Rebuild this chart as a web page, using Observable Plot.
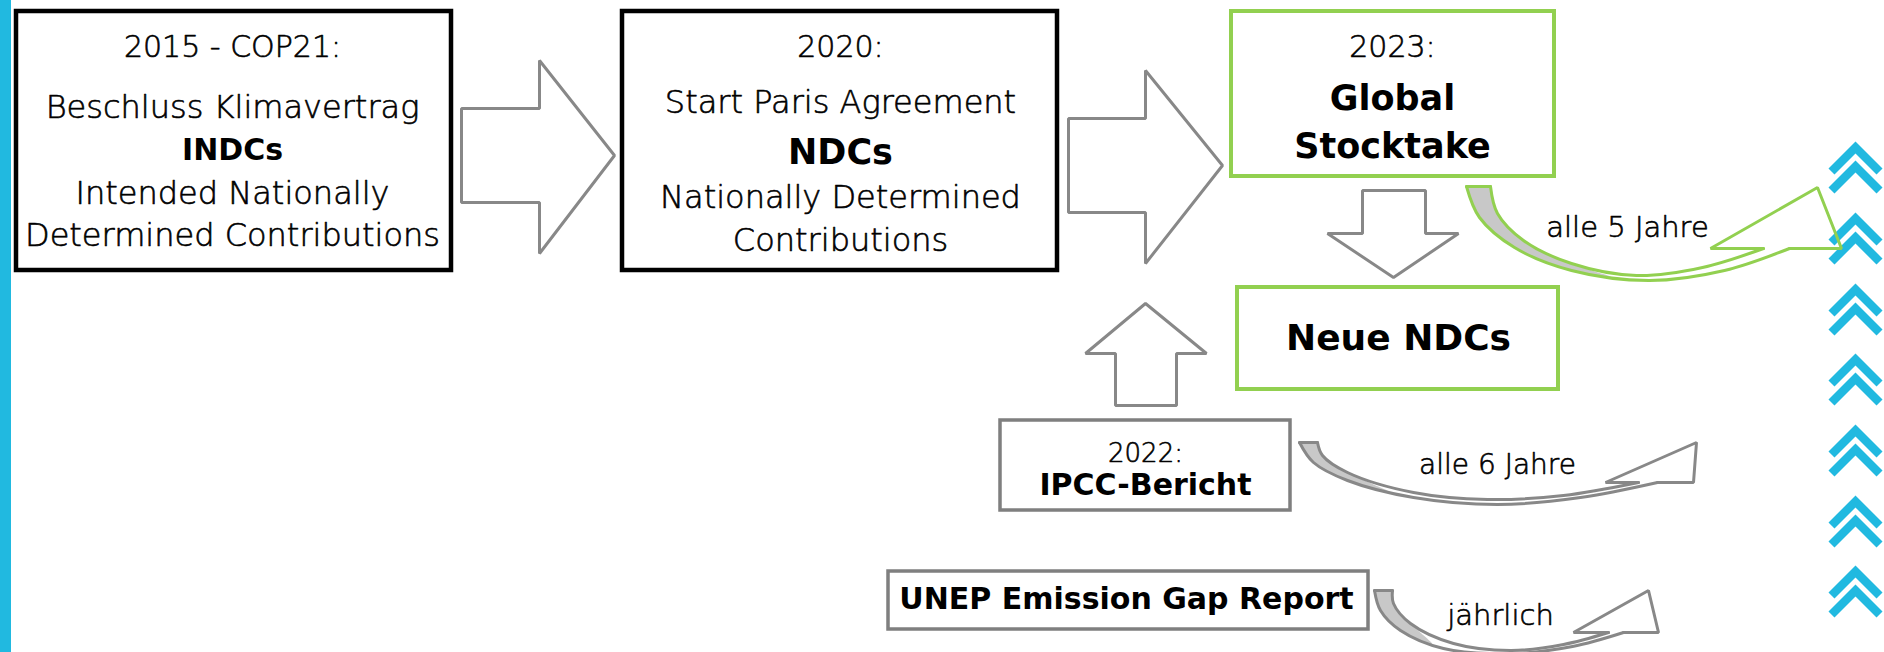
<!DOCTYPE html>
<html><head><meta charset="utf-8">
<script src="https://cdn.jsdelivr.net/npm/d3@7"></script>
<script src="https://cdn.jsdelivr.net/npm/@observablehq/plot@0.6"></script>
<style>html,body{margin:0;padding:0;background:#fff;} #chart svg{display:block;}</style>
</head><body><div id="chart"></div>
<script>
// ---- diagram data (coordinates, in diagram units) ----
const boxes = [
  {id: "cop21", x1: 16,   y1: 11,  x2: 451,  y2: 270, kind: "black"},
  {id: "paris", x1: 622,  y1: 11,  x2: 1057, y2: 270, kind: "black"},
  {id: "gst",   x1: 1231, y1: 11,  x2: 1554, y2: 176, kind: "green"},
  {id: "ndc",   x1: 1237, y1: 287, x2: 1558, y2: 389, kind: "green"},
  {id: "ipcc",  x1: 1000, y1: 420, x2: 1290, y2: 510, kind: "grey"},
  {id: "unep",  x1: 888,  y1: 571, x2: 1368, y2: 629, kind: "grey"}
];
const sideBar = [{x1: 0, x2: 11, y1: 0, y2: 652}];

const arrowRight1 = [[461,108],[539,108],[539,60],[614,155],[539,253],[539,202],[461,202]];
const arrowRight2 = [[1068,118],[1145,118],[1145,70],[1222,165],[1145,263],[1145,212],[1068,212]];
const arrowDown   = [[1362,190],[1425,190],[1425,233],[1458,233],[1393,277],[1327,233],[1362,233]];
const arrowUp     = [[1145,303],[1206,353],[1176,353],[1176,405],[1115,405],[1115,353],[1085,353]];

// curved arrows: outer edge, inner edge, arrow head, folded (grey) part
const gstOuter = [[1466,186],[1479,217],[1514,247],[1571,270],[1649,280],[1724,270],[1789,248]];
const gstInner = [[1490,186],[1497,213],[1523,240],[1571,263],[1636,275],[1702,267],[1763,248]];
const gstHead  = [[1763,248],[1710,248],[1817,187],[1841,248],[1789,248]];
const gstFold  = [[1466,186],[1479,217],[1514,247],[1571,270],[1612,277],[1571,263],[1523,240],[1497,213],[1490,186]];

const ipccOuter = [[1299,442],[1313,462],[1347,480],[1413,497],[1497,504],[1580,497],[1657,482]];
const ipccInner = [[1317,442],[1322,455],[1347,472],[1413,492],[1487,499],[1563,495],[1638,482]];
const ipccHead  = [[1638,482],[1605,482],[1696,442],[1693,482],[1657,482]];
const ipccFold  = [[1299,442],[1313,462],[1347,480],[1388,491],[1347,472],[1322,455],[1317,442]];

const unepOuter = [[1374,590],[1380,610],[1400,630],[1443,648],[1510,653],[1572,646],[1623,632]];
const unepInner = [[1392,590],[1393,603],[1410,623],[1453,643],[1510,650],[1563,644],[1608,632]];
const unepHead  = [[1608,632],[1573,632],[1648,590],[1658,632],[1623,632]];
const unepFold  = [[1374,590],[1380,610],[1400,630],[1432,644],[1410,623],[1393,603],[1392,590]];

const chevronRows = [167.5, 238.5, 309.5, 379.5, 450.5, 521.5, 591.5];
const chevronColumn = 1855;

const labels = [
  {text: "2015 - COP21:",            x: 232,  y: 47,  role: "year"},
  {text: "Beschluss Klimavertrag",   x: 232,  y: 107, role: "body"},
  {text: "INDCs",                    x: 232,  y: 150, role: "boldS"},
  {text: "Intended Nationally",      x: 232,  y: 193, role: "body"},
  {text: "Determined Contributions", x: 232,  y: 235, role: "body"},
  {text: "2020:",                    x: 840,  y: 47,  role: "year"},
  {text: "Start Paris Agreement",    x: 840,  y: 102, role: "body"},
  {text: "NDCs",                     x: 840,  y: 152, role: "boldM"},
  {text: "Nationally Determined",    x: 840,  y: 197, role: "body"},
  {text: "Contributions",            x: 840,  y: 240, role: "body"},
  {text: "2023:",                    x: 1392, y: 47,  role: "year"},
  {text: "Global",                   x: 1392, y: 98,  role: "boldM"},
  {text: "Stocktake",                x: 1392, y: 146, role: "boldM"},
  {text: "Neue NDCs",                x: 1398, y: 338, role: "boldL"},
  {text: "2022:",                    x: 1145, y: 453, role: "yearS"},
  {text: "IPCC-Bericht",             x: 1145, y: 485, role: "boldS"},
  {text: "UNEP Emission Gap Report", x: 1126, y: 599, role: "boldS"},
  {text: "alle 5 Jahre",             x: 1627, y: 227, role: "note"},
  {text: "alle 6 Jahre",             x: 1497, y: 465, role: "noteS"},
  {text: "jährlich",                 x: 1500, y: 615, role: "note"}
];

// ---- styles ----
const COLORS = {black: "#000000", green: "#92d050", grey: "#7f7f7f", arrow: "#888888", fold: "#c8c8c8", blue: "#21b9e0"};
const BOX_WIDTH = {black: 4.5, green: 4, grey: 3.5};
const LIGHT = "'DejaVu Sans', 'Open Sans', sans-serif";
const BOLD = "'DejaVu Sans', sans-serif";
const ROLE = {
  year:  {fontSize: 30, fontWeight: 200, fontFamily: LIGHT, stroke: "#000", strokeWidth: 0.6},
  yearS: {fontSize: 26, fontWeight: 200, fontFamily: LIGHT, stroke: "#000", strokeWidth: 0.6},
  body:  {fontSize: 32, fontWeight: 200, fontFamily: LIGHT, stroke: "#000", strokeWidth: 0.6},
  note:  {fontSize: 29, fontWeight: 200, fontFamily: LIGHT, stroke: "#000", strokeWidth: 0.6},
  noteS: {fontSize: 28, fontWeight: 200, fontFamily: LIGHT, stroke: "#000", strokeWidth: 0.6},
  boldS: {fontSize: 30, fontWeight: 700, fontFamily: BOLD},
  boldM: {fontSize: 35, fontWeight: 700, fontFamily: BOLD},
  boldL: {fontSize: 36, fontWeight: 700, fontFamily: BOLD}
};

const toRows = (id, pts) => pts.map(([x, y]) => ({id, x, y}));

// double-chevron symbol (shape in units of r = 27)
const doubleChevron = {
  draw(context, size) {
    const k = Math.sqrt(size / Math.PI) / 27;
    for (const top of [-26.5, -7.5]) {
      const pts = [[0, top], [27, top + 27], [21, top + 33], [0, top + 12], [-21, top + 33], [-27, top + 27]];
      context.moveTo(pts[0][0] * k, pts[0][1] * k);
      for (const p of pts.slice(1)) context.lineTo(p[0] * k, p[1] * k);
      context.closePath();
    }
  }
};

const blockArrows = [
  ...toRows("r1", arrowRight1), ...toRows("r2", arrowRight2),
  ...toRows("d", arrowDown), ...toRows("u", arrowUp)
];

function curvedArrow(outer, inner, head, fold, color) {
  const top = [outer[0], inner[0]];
  return [
    Plot.line(toRows("fold", fold), {x: "x", y: "y", fill: COLORS.fold, stroke: "none", curve: "catmull-rom"}),
    Plot.line([...toRows("o", outer), ...toRows("i", inner)], {x: "x", y: "y", z: "id", stroke: color, strokeWidth: 3, curve: "catmull-rom"}),
    Plot.line([...toRows("h", head), ...toRows("t", top)], {x: "x", y: "y", z: "id", stroke: color, strokeWidth: 3, strokeLinejoin: "miter", curve: "linear"})
  ];
}

const plot = Plot.plot({
  width: 1884, height: 652, margin: 0,
  x: {domain: [0, 1884], range: [0, 1884], axis: null},
  y: {domain: [0, 652], range: [0, 652], axis: null},
  style: {background: "#ffffff"},
  marks: [
    Plot.rect(sideBar, {x1: "x1", x2: "x2", y1: "y1", y2: "y2", fill: COLORS.blue}),
    Plot.dot(chevronRows.map(y => ({x: chevronColumn, y})), {x: "x", y: "y", r: 27, symbol: doubleChevron, fill: COLORS.blue, stroke: "none"}),
    ...["black", "green", "grey"].map(kind =>
      Plot.rect(boxes.filter(d => d.kind === kind), {x1: "x1", x2: "x2", y1: "y1", y2: "y2", fill: "white", stroke: COLORS[kind], strokeWidth: BOX_WIDTH[kind], strokeLinejoin: "miter"})
    ),
    Plot.line(blockArrows, {x: "x", y: "y", z: "id", fill: "white", stroke: COLORS.arrow, strokeWidth: 3, strokeLinejoin: "miter", curve: "linear-closed"}),
    ...curvedArrow(gstOuter, gstInner, gstHead, gstFold, COLORS.green),
    ...curvedArrow(ipccOuter, ipccInner, ipccHead, ipccFold, COLORS.arrow),
    ...curvedArrow(unepOuter, unepInner, unepHead, unepFold, COLORS.arrow),
    ...Object.entries(ROLE).map(([role, st]) =>
      Plot.text(labels.filter(d => d.role === role), {x: "x", y: "y", text: "text", fill: "#000", textAnchor: "middle", lineAnchor: "middle", ...st})
    )
  ]
});
document.getElementById("chart").append(plot);
</script></body></html>
